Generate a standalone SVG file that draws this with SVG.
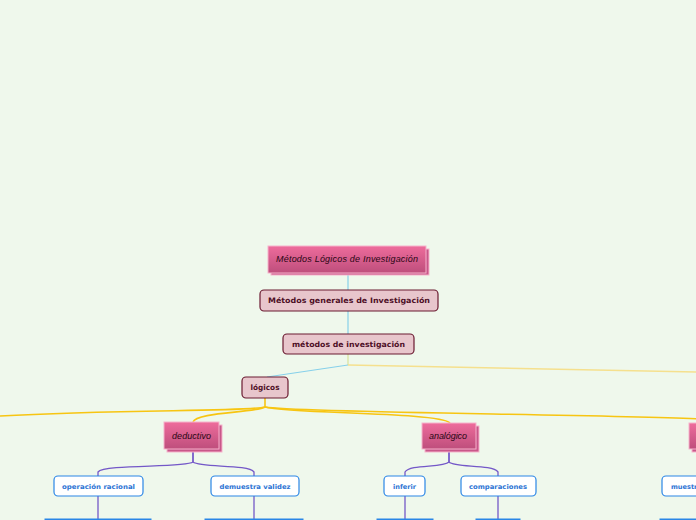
<svg xmlns="http://www.w3.org/2000/svg" width="696" height="520" viewBox="0 0 696 520">
<defs>
<linearGradient id="pk" x1="0" y1="0" x2="0" y2="1">
<stop offset="0" stop-color="#EE6C9C"/>
<stop offset="1" stop-color="#BE4E7C"/>
</linearGradient>
<style>
.pkbox{fill:url(#pk);stroke:#F6B3CB;stroke-width:1}
.pksh{fill:#C9578A;stroke:#F6B3CB;stroke-width:1}
.pktx{font-family:"Liberation Sans",sans-serif;font-style:italic;font-size:9px;fill:#2a0614;text-anchor:middle}
.mbox{fill:#E8C6CC;stroke:#6A1A30;stroke-width:1.2}
.mtx{font-family:"DejaVu Sans","Liberation Sans",sans-serif;font-weight:bold;font-size:7.5px;fill:#4E0F26;text-anchor:middle}
.cbox{fill:#FFFFFF;stroke:#2A86E6;stroke-width:1.2}
.ctx{font-family:"DejaVu Sans","Liberation Sans",sans-serif;font-weight:bold;font-size:6.6px;fill:#2D74D4;text-anchor:middle}
.gbox{fill:#2A86E6;stroke:#2A86E6}
.pl{fill:none;stroke:#7458C8;stroke-width:1.3}
.yl{fill:none;stroke:#F7C512;stroke-width:1.6}
</style>
</defs>
<rect width="696" height="520" fill="#EFF8EC"/>
<g id="connectors">
<path d="M348,273 V290" stroke="#86D0EA" stroke-width="1.2" fill="none"/>
<path d="M348,311 V334" stroke="#86D0EA" stroke-width="1.2" fill="none"/>
<path d="M348,354 V365" stroke="#D9E39A" stroke-width="1.2" fill="none"/>
<path d="M348,365 L267,377" stroke="#86D0EA" stroke-width="1.2" fill="none"/>
<path d="M348,365 L696,372" stroke="#F5E08E" stroke-width="1.5" fill="none"/>
<path d="M265,398 V407" class="yl" stroke-width="2"/>
<path d="M265,407 C245,412 120,409 0,416" class="yl"/>
<path d="M265,407 C255,413 196,412 193,422" class="yl"/>
<path d="M265,407 C290,414 440,412 450,423" class="yl"/>
<path d="M265,407 C300,413 600,414 700,419" class="yl"/>
<path d="M193,452 V462 C185,468 104,464 98,472 V476" class="pl"/>
<path d="M193,452 V462 C201,468 248,464 254,472 V476" class="pl"/>
<path d="M98,496 V519" class="pl"/>
<path d="M254,496 V519" class="pl"/>
<path d="M449,452 V462 C443,468 410,464 405,472 V476" class="pl"/>
<path d="M449,452 V462 C455,468 492,464 498,472 V476" class="pl"/>
<path d="M405,496 V519" class="pl"/>
<path d="M498,496 V519" class="pl"/>
</g>
<g id="n-title">
<rect x="271" y="249" width="158" height="26" class="pksh"/>
<rect x="268" y="246" width="158" height="27" class="pkbox"/>
<text x="347" y="262" class="pktx" textLength="142" lengthAdjust="spacing">Métodos Lógicos de Investigación</text>
</g>
<g id="n-generales">
<rect x="260" y="290" width="178" height="21" rx="4" class="mbox"/>
<text x="349" y="303" class="mtx" textLength="162" lengthAdjust="spacingAndGlyphs">Métodos generales de Investigación</text>
</g>
<g id="n-metodos">
<rect x="283" y="334" width="131" height="20" rx="4" class="mbox"/>
<text x="348.5" y="346.5" class="mtx" textLength="113" lengthAdjust="spacingAndGlyphs">métodos de investigación</text>
</g>
<g id="n-logicos">
<rect x="242" y="377" width="46" height="21" rx="4" class="mbox"/>
<text x="265" y="390" class="mtx" font-size="7px" textLength="29" lengthAdjust="spacingAndGlyphs">lógicos</text>
</g>
<g id="n-deductivo">
<rect x="167" y="425" width="55" height="27" class="pksh"/>
<rect x="164" y="422" width="55" height="27" class="pkbox"/>
<text x="191.5" y="438.5" class="pktx" textLength="39" lengthAdjust="spacing">deductivo</text>
</g>
<g id="n-analogico">
<rect x="425" y="426" width="54" height="26" class="pksh"/>
<rect x="422" y="423" width="54" height="26" class="pkbox"/>
<text x="448" y="439" class="pktx" textLength="38" lengthAdjust="spacing">analógico</text>
</g>
<g id="n-right">
<rect x="692" y="426" width="40" height="26" class="pksh"/>
<rect x="689" y="423" width="40" height="26" class="pkbox"/>
</g>
<g id="n-operacion">
<rect x="54" y="476" width="89" height="20" rx="4" class="cbox"/>
<text x="98.5" y="488.5" class="ctx" textLength="73" lengthAdjust="spacingAndGlyphs">operación racional</text>
</g>
<g id="n-demuestra">
<rect x="211" y="476" width="88" height="20" rx="4" class="cbox"/>
<text x="255" y="488.5" class="ctx" textLength="71" lengthAdjust="spacingAndGlyphs">demuestra validez</text>
</g>
<g id="n-inferir">
<rect x="384" y="476" width="41" height="20" rx="4" class="cbox"/>
<text x="404.5" y="488.5" class="ctx" textLength="23" lengthAdjust="spacingAndGlyphs">inferir</text>
</g>
<g id="n-comparaciones">
<rect x="461" y="476" width="75" height="20" rx="4" class="cbox"/>
<text x="498" y="488.5" class="ctx" textLength="58" lengthAdjust="spacingAndGlyphs">comparaciones</text>
</g>
<g id="n-muestra">
<rect x="662" y="476" width="60" height="20" rx="4" class="cbox"/>
<text x="671" y="488.5" class="ctx" style="text-anchor:start">muestra</text>
</g>
<g id="n-bottom">
<rect x="45" y="519" width="106" height="10" class="gbox"/>
<rect x="205" y="519" width="98" height="10" class="gbox"/>
<rect x="377" y="519" width="56" height="10" class="gbox"/>
<rect x="476" y="519" width="44" height="10" class="gbox"/>
<rect x="660" y="519" width="60" height="10" class="gbox"/>
</g>
</svg>
